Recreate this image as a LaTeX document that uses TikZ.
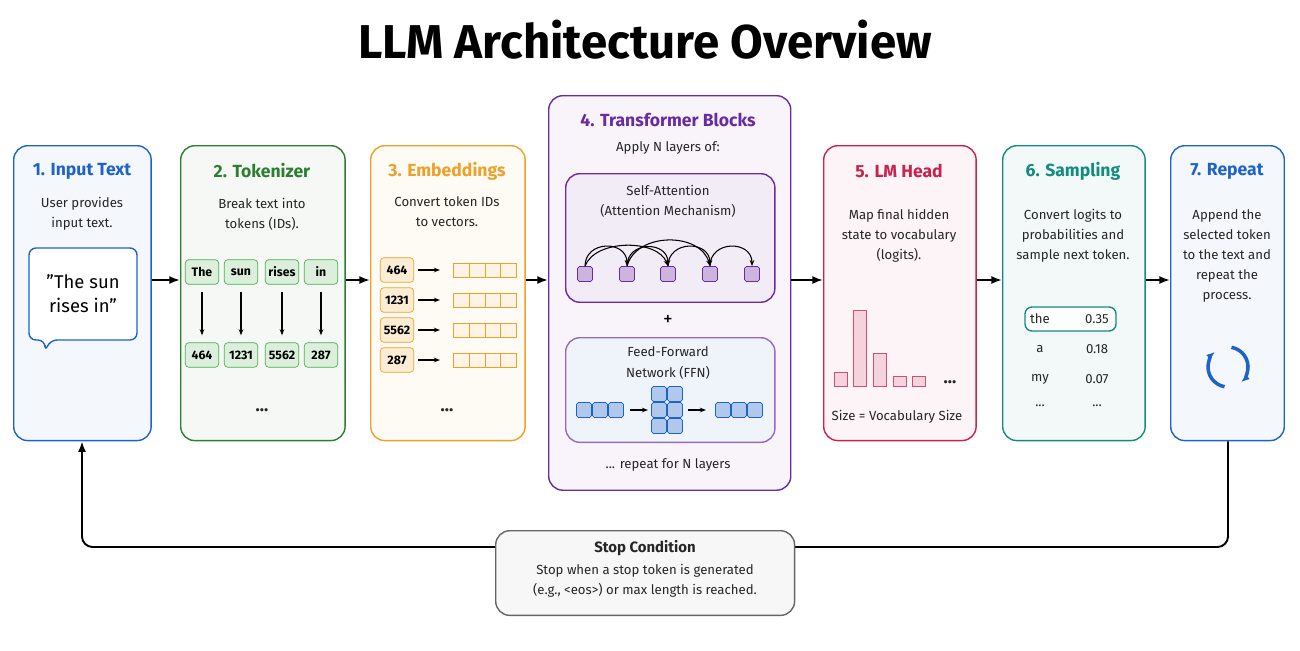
\documentclass[tikz,border=0pt]{standalone}
\usepackage{fontspec}
\setmainfont{Fira Sans}
\usetikzlibrary{arrows.meta,positioning}
\definecolor{cblue}{HTML}{1E63C8}
\definecolor{cgreen}{HTML}{2E7D32}
\definecolor{corange}{HTML}{EDA12A}
\definecolor{cpurple}{HTML}{6A2AA0}
\definecolor{cpink}{HTML}{C8224F}
\definecolor{cteal}{HTML}{138C80}
\definecolor{ctok}{HTML}{4CAF50}
\definecolor{cgray}{HTML}{666666}
\tikzset{
  stage/.style={draw=#1, fill=#1!5, rounded corners=8pt, line width=0.8pt, anchor=north west},
  stitle/.style={text=#1, font=\fontsize{10}{11}\selectfont\bfseries},
  body/.style={font=\fontsize{7.5}{11.5}\selectfont, align=center, text=black!85},
  tok/.style={draw=#1, fill=#1!20, rounded corners=2pt, minimum width=19pt, minimum height=14pt, inner sep=1pt, font=\fontsize{7}{8}\selectfont\bfseries},
  sq/.style={draw=#1, fill=#1!35, rounded corners=1pt, minimum size=8.5pt, inner sep=0pt},
  flow/.style={-{Latex[length=6pt]}, line width=1.1pt},
  small/.style={-{Stealth[length=3.5pt]}, line width=0.6pt},
}
\begin{document}
\begin{tikzpicture}[x=0.02cm,y=-0.02cm]
\useasboundingbox (0,0) rectangle (1300,650);
\node[font=\fontsize{27}{30}\selectfont\bfseries] (title) at (645,40) {LLM Architecture Overview};

% stages
\node[stage=cblue, minimum width=138*0.567pt, minimum height=296*0.567pt] (s1) at (13,145) {};
\node[stage=cgreen, minimum width=165*0.567pt, minimum height=296*0.567pt] (s2) at (180,145) {};
\node[stage=corange, minimum width=155*0.567pt, minimum height=296*0.567pt] (s3) at (370,145) {};
\node[stage=cpurple, minimum width=243*0.567pt, minimum height=396*0.567pt] (s4) at (548,95) {};
\node[stage=cpink, minimum width=153*0.567pt, minimum height=296*0.567pt] (s5) at (823,145) {};
\node[stage=cteal, minimum width=143*0.567pt, minimum height=296*0.567pt] (s6) at (1002,145) {};
\node[stage=cblue, minimum width=114*0.567pt, minimum height=296*0.567pt] (s7) at (1170,145) {};

\foreach \a/\b in {s1/s2,s2/s3,s3/s4,s4/s5,s5/s6,s6/s7}
  \draw[flow] (\a.east|-0,280) -- (\b.west|-0,280);

% feedback loop
\coordinate (c7) at (1228,547);
\coordinate (c1) at (82,547);
\draw[flow, rounded corners=6pt] (s7.south-|1228,0) -- (c7) -- (c1) -- (s1.south-|82,0);

% 1. input
\node[stitle=cblue] (t1) at (82,171) {1. Input Text};
\node[body] (d1) at (82,214) {User provides\\input text.};
\draw[cblue, fill=white, rounded corners=4pt, line width=0.8pt]
  (29,248) -- (137,248) -- (137,340) -- (50,340) -- (45,352) -- (45,340) -- (29,340) -- cycle;
\node[font=\fontsize{10.5}{13.5}\selectfont, align=center] (q1) at (83,294) {\symbol{34}The sun\\rises in\symbol{34}};

% 2. tokenizer
\node[stitle=cgreen] (t2) at (262,171) {2. Tokenizer};
\node[body] (d2) at (262,214) {Break text into\\tokens (IDs).};
\foreach \x/\w/\i [count=\k] in {202/The/464,241/sun/1231,282/rises/5562,321/in/287}{
  \node[tok=ctok] (w\k) at (\x,272) {\w};
  \node[tok=ctok] (i\k) at (\x,355) {\i};
  \draw[small] ([yshift=-4pt]w\k.south) -- ([yshift=4pt]i\k.north);
}
\node[body, font=\bfseries] (e2) at (262,410) {...};

% 3. embeddings
\node[stitle=corange] (t3) at (447,171) {3. Embeddings};
\node[body] (d3) at (447,212) {Convert token IDs\\to vectors.};
\foreach \i/\y [count=\k] in {464/270,1231/300,5562/330,287/360}{
  \node[tok=corange] (n\k) at (397,\y) {\i};
  \node[draw=corange, fill=corange!12, minimum width=36pt, minimum height=8pt, inner sep=0pt] (v\k) at (485,\y) {};
  \foreach \c in {-1,0,1} \draw[corange] ([xshift=\c*9pt]v\k.north) -- ([xshift=\c*9pt]v\k.south);
  \draw[small] (418,\y) -- (440,\y);
}
\node[body, font=\bfseries] (e3) at (447,410) {...};

% 4. transformer
\node[stitle=cpurple] (t4) at (668,120) {4. Transformer Blocks};
\node[body] (d4) at (668,148) {Apply N layers of:};
\node[stage=cpurple, fill=cpurple!9, minimum width=210*0.567pt, minimum height=129*0.567pt] (att) at (565,173) {};
\node[body] (ta) at (668,201) {Self-Attention\\(Attention Mechanism)};
\foreach \x [count=\k] in {585,627,668,710,752}
  \node[sq=cpurple] (q\k) at (\x,274) {};
\foreach \a/\b in {1/2,2/3,3/4,4/5}
  \draw[small] (q\a.north) to[out=90,in=90,looseness=1.6] (q\b.north);
\draw[small] (q2.north) to[out=75,in=105,looseness=1.1] (q4.north);
\draw[small] (q1.north) to[out=70,in=110,looseness=0.9] (q3.north);
\node[font=\fontsize{11}{12}\selectfont] (plus) at (668,320) {+};
\node[stage=cblue, fill=cblue!7, draw=cpurple!70, minimum width=210*0.567pt, minimum height=105*0.567pt] (ffn) at (565,337) {};
\node[body] (tf) at (668,363) {Feed-Forward\\Network (FFN)};
\foreach \x in {584,600,616,723,739,755}
  \node[sq=cblue] at (\x,410) {};
\foreach \x in {659,675} \foreach \y in {394,410,426}
  \node[sq=cblue] at (\x,\y) {};
\draw[small] (630,410) -- (648,410);
\draw[small] (688,410) -- (706,410);
\node[body] (r4) at (668,465) {... repeat for N layers};

% 5. lm head
\node[stitle=cpink] (t5) at (899,171) {5. LM Head};
\node[body] (d5) at (899,236) {Map final hidden\\state to vocabulary\\(logits).};
\foreach \x/\h in {841/14,860/76,880/33,900/10,919/10}
  \draw[cpink!80, fill=cpink!20] (\x-6.5,386) rectangle (\x+6.5,386-\h);
\node[body, font=\bfseries] (e5) at (950,382) {...};
\node[body] (sz) at (897,417) {Size = Vocabulary Size};

% 6. sampling
\node[stitle=cteal] (t6) at (1073,171) {6. Sampling};
\node[body] (d6) at (1073,236) {Convert logits to\\probabilities and\\sample next token.};
\draw[cteal, fill=white, rounded corners=4pt, line width=0.8pt] (1025,307) rectangle (1116,331);
\foreach \w/\p/\y in {the/0.35/319,a/0.18/349,my/0.07/379}{
  \node[body] at (1040,\y) {\w};
  \node[body] at (1097,\y) {\p};
}
\node[body] (m6) at (1040,406) {...};
\node[body] (p6) at (1097,406) {...};

% 7. repeat
\node[stitle=cblue] (t7) at (1227,171) {7. Repeat};
\node[body] (d7) at (1227,256) {Append the\\selected token\\to the text and\\repeat the\\process.};
\draw[cblue, line width=2pt, -{Latex[length=5pt]}] (1228,367) ++(100:20) arc (100:230:20);
\draw[cblue, line width=2pt, -{Latex[length=5pt]}] (1228,367) ++(280:20) arc (280:410:20);

% stop condition
\node[stage=cgray, minimum width=300*0.567pt, minimum height=85*0.567pt] (stop) at (495,530) {};
\node[body, font=\fontsize{8.5}{10}\selectfont\bfseries] (ts) at (645,548) {Stop Condition};
\node[body] (ds) at (645,581) {Stop when a stop token is generated\\(e.g., <eos>) or max length is reached.};
\end{tikzpicture}
\end{document}
